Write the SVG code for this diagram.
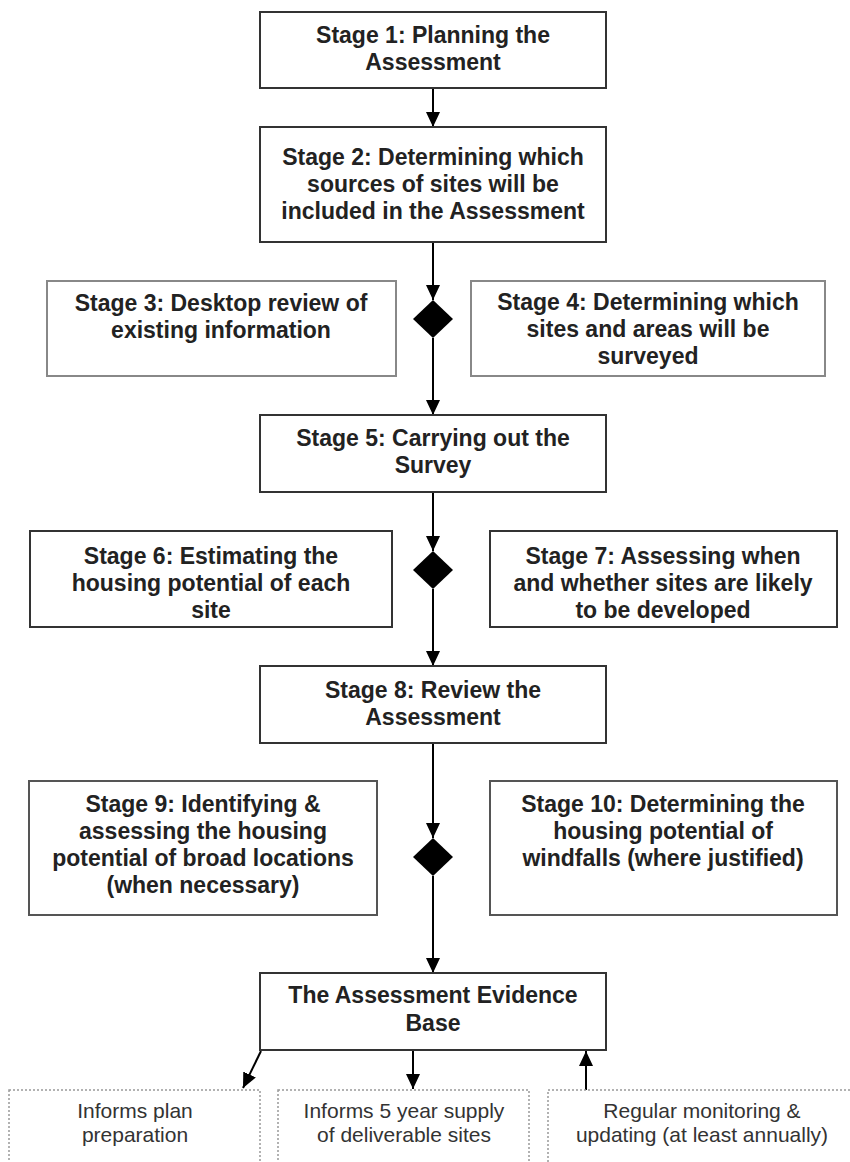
<svg xmlns="http://www.w3.org/2000/svg" width="850" height="1162" viewBox="0 0 850 1162">
<defs>
<marker id="ah" viewBox="0 0 15 14" refX="15" refY="7" markerWidth="15" markerHeight="14" markerUnits="userSpaceOnUse" orient="auto">
<path d="M0,0 L15,7 L0,14 Z" fill="#000"/>
</marker>
<style>
.main{fill:#fff;stroke:#333;stroke-width:2}
.side{fill:#fff;stroke:#888;stroke-width:2}
.side2{fill:#fff;stroke:#555;stroke-width:2}
.dot{fill:#fff;stroke:#999;stroke-width:1.5;stroke-dasharray:2 2}
.t{font-family:"Liberation Sans",Arial,sans-serif;font-size:23px;font-weight:bold;fill:#222;text-anchor:middle}
.s{font-family:"Liberation Sans",Arial,sans-serif;font-size:21px;fill:#333;text-anchor:middle}
.c{stroke:#000;stroke-width:2;fill:none}
.d{fill:#000}
</style>
</defs>
<rect width="850" height="1162" fill="#fff"/>
<g id="connectors">
<line class="c" x1="433" y1="88" x2="433" y2="127" marker-end="url(#ah)"/>
<line class="c" x1="433" y1="242" x2="433" y2="300" marker-end="url(#ah)"/>
<line class="c" x1="433" y1="338" x2="433" y2="415" marker-end="url(#ah)"/>
<line class="c" x1="433" y1="492" x2="433" y2="551" marker-end="url(#ah)"/>
<line class="c" x1="433" y1="589" x2="433" y2="666" marker-end="url(#ah)"/>
<line class="c" x1="433" y1="743" x2="433" y2="838" marker-end="url(#ah)"/>
<line class="c" x1="433" y1="876" x2="433" y2="973" marker-end="url(#ah)"/>
<line class="c" x1="261" y1="1051" x2="243" y2="1088" marker-end="url(#ah)"/>
<line class="c" x1="413" y1="1050" x2="413" y2="1089" marker-end="url(#ah)"/>
<line class="c" x1="586" y1="1090" x2="586" y2="1051" marker-end="url(#ah)"/>
</g>
<g id="diamond1"><path class="d" d="M433,300 L453,319 L433,338 L413,319 Z"/></g>
<g id="diamond2"><path class="d" d="M433,551 L453,570 L433,589 L413,570 Z"/></g>
<g id="diamond3"><path class="d" d="M433,838 L453,857 L433,876 L413,857 Z"/></g>
<g id="stage1">
<rect class="main" x="260" y="12" width="346" height="76"/>
<text class="t" x="433" y="43">Stage 1: Planning the</text>
<text class="t" x="433" y="70">Assessment</text>
</g>
<g id="stage2">
<rect class="main" x="260" y="127" width="346" height="115"/>
<text class="t" x="433" y="165">Stage 2: Determining which</text>
<text class="t" x="433" y="192">sources of sites will be</text>
<text class="t" x="433" y="219">included in the Assessment</text>
</g>
<g id="stage3">
<rect class="side" x="47" y="281" width="349" height="95"/>
<text class="t" x="221" y="311">Stage 3: Desktop review of</text>
<text class="t" x="221" y="338">existing information</text>
</g>
<g id="stage4">
<rect class="side" x="471" y="281" width="354" height="95"/>
<text class="t" x="648" y="310">Stage 4: Determining which</text>
<text class="t" x="648" y="337">sites and areas will be</text>
<text class="t" x="648" y="364">surveyed</text>
</g>
<g id="stage5">
<rect class="main" x="260" y="415" width="346" height="77"/>
<text class="t" x="433" y="446">Stage 5: Carrying out the</text>
<text class="t" x="433" y="473">Survey</text>
</g>
<g id="stage6">
<rect class="main" x="30" y="531" width="362" height="96"/>
<text class="t" x="211" y="564">Stage 6: Estimating the</text>
<text class="t" x="211" y="591">housing potential of each</text>
<text class="t" x="211" y="618">site</text>
</g>
<g id="stage7">
<rect class="main" x="490" y="531" width="347" height="96"/>
<text class="t" x="663" y="564">Stage 7: Assessing when</text>
<text class="t" x="663" y="591">and whether sites are likely</text>
<text class="t" x="663" y="618">to be developed</text>
</g>
<g id="stage8">
<rect class="main" x="260" y="666" width="346" height="77"/>
<text class="t" x="433" y="698">Stage 8: Review the</text>
<text class="t" x="433" y="725">Assessment</text>
</g>
<g id="stage9">
<rect class="side2" x="29" y="781" width="348" height="134"/>
<text class="t" x="203" y="812">Stage 9: Identifying &amp;</text>
<text class="t" x="203" y="839">assessing the housing</text>
<text class="t" x="203" y="866">potential of broad locations</text>
<text class="t" x="203" y="893">(when necessary)</text>
</g>
<g id="stage10">
<rect class="side2" x="490" y="781" width="347" height="134"/>
<text class="t" x="663" y="812">Stage 10: Determining the</text>
<text class="t" x="663" y="839">housing potential of</text>
<text class="t" x="663" y="866">windfalls (where justified)</text>
</g>
<g id="evidence">
<rect class="main" x="260" y="973" width="346" height="77"/>
<text class="t" x="433" y="1003">The Assessment Evidence</text>
<text class="t" x="433" y="1031">Base</text>
</g>
<g id="plan">
<rect class="dot" x="9" y="1090" width="251" height="80"/>
<text class="s" x="135" y="1118">Informs plan</text>
<text class="s" x="135" y="1142">preparation</text>
</g>
<g id="supply">
<rect class="dot" x="278" y="1090" width="251" height="80"/>
<text class="s" x="404" y="1118">Informs 5 year supply</text>
<text class="s" x="404" y="1142">of deliverable sites</text>
</g>
<g id="monitoring">
<rect class="dot" x="548" y="1090" width="310" height="80"/>
<text class="s" x="702" y="1118">Regular monitoring &amp;</text>
<text class="s" x="702" y="1142">updating (at least annually)</text>
</g>
</svg>
